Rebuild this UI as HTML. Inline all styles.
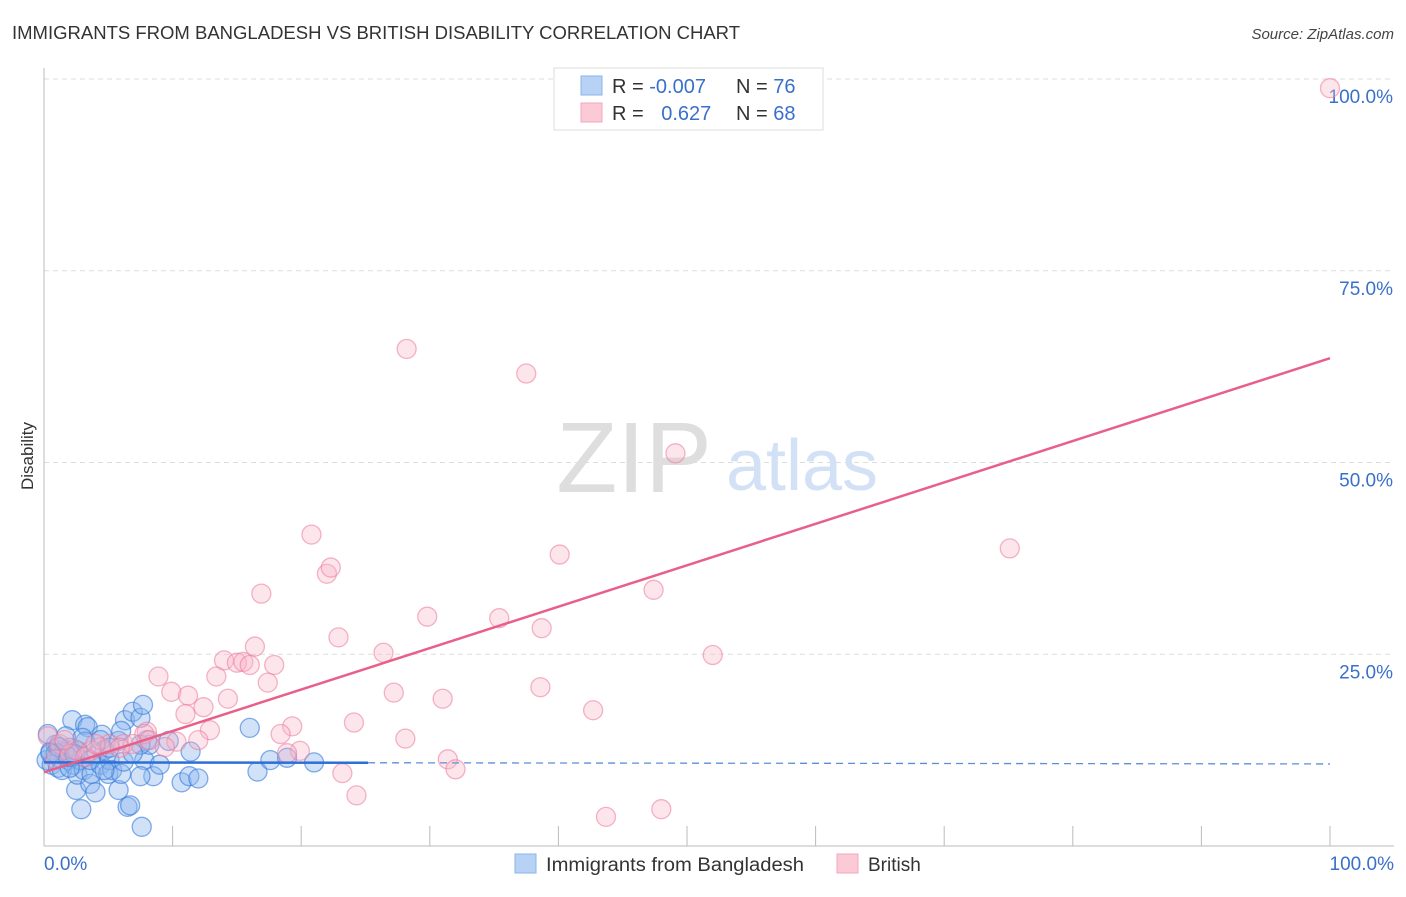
<!DOCTYPE html>
<html><head><meta charset="utf-8"><style>
body{margin:0;background:#fff;font-family:"Liberation Sans",sans-serif;}
svg text{font-family:"Liberation Sans",sans-serif;}
</style></head><body>
<svg id="chart" width="1406" height="892" xmlns="http://www.w3.org/2000/svg">
<text x="12" y="39" font-size="18" fill="#333" textLength="728" lengthAdjust="spacingAndGlyphs">IMMIGRANTS FROM BANGLADESH VS BRITISH DISABILITY CORRELATION CHART</text>
<text x="1394" y="39" font-size="15" fill="#444" text-anchor="end" font-style="italic">Source: ZipAtlas.com</text>
<text transform="translate(33,456) rotate(-90)" font-size="17" fill="#333" text-anchor="middle">Disability</text>
<g id="grid"></g>
<g><text x="634" y="492" font-size="100" fill="#dedede" font-family="Liberation Serif" text-anchor="middle">ZIP</text><text x="802" y="490" font-size="72" fill="#d2e1f5" text-anchor="middle">atlas</text></g>
<g id="blue"></g><g id="pink"></g><g id="lines"></g>
<g>
<rect x="554" y="68" width="269" height="62" fill="#fff" stroke="#ddd"/>
<rect x="581" y="76" width="21" height="19" fill="#b7d2f5" stroke="#8ab4ea"/>
<rect x="581" y="103" width="21" height="19" fill="#fcc9d7" stroke="#f1a7bd"/>
<text x="612" y="93" font-size="20" fill="#333">R = <tspan fill="#3a70c9">-0.007</tspan></text>
<text x="736" y="93" font-size="20" fill="#333">N = <tspan fill="#3a70c9">76</tspan></text>
<text x="612" y="120" font-size="20" fill="#333">R = <tspan fill="#3a70c9" dx="12">0.627</tspan></text>
<text x="736" y="120" font-size="20" fill="#333">N = <tspan fill="#3a70c9">68</tspan></text>
</g>
<g>
<rect x="515" y="854" width="21" height="19" fill="#b7d2f5" stroke="#8ab4ea"/>
<text x="546" y="871" font-size="19" fill="#333" textLength="258" lengthAdjust="spacingAndGlyphs">Immigrants from Bangladesh</text>
<rect x="837" y="854" width="21" height="19" fill="#fcc9d7" stroke="#f1a7bd"/>
<text x="868" y="871" font-size="19" fill="#333">British</text>
</g>
</svg>
<script>
const yTicks=[25,50,75,100];
const yTickLabels=["25.0%","50.0%","75.0%","100.0%"];
const xTickLabels=["0.0%","100.0%"];
const blueX=[0.2,0.5,0.6,0.9,1.1,1.2,1.4,1.6,1.9,2,2.2,2.3,2.5,2.6,2.8,2.9,3.1,3.2,3.4,3.6,3.7,4,4.1,4.4,4.5,4.7,5,5.1,5.3,5.8,6,6.2,6.3,6.5,6.7,6.9,7.5,7.6,7.7,7.8,8,8.2,8.5,9,9.7,10.7,11.3,12,16,16.6,17.6,18.9,21,11.4,7.5,1.2,1.6,2,3.2,2.4,0.9,0.3,5.8,4.4,5.1,1.7,2.6,3.6,4.7,7.5,1.1,0.5,1.9,3,6,6.9];
const blueY=[11.2,12.3,10.6,13.2,10.2,11.5,9.9,12.5,11.2,12.8,16.4,10.6,7.3,9.3,11.2,4.8,9.9,15.8,15.5,8.1,9.4,7,12,10.6,14.5,12.5,9.4,11.2,9.9,7.3,9.4,11,16.4,5.1,5.3,17.5,16.7,2.5,18.4,11.2,13.8,13.2,9.1,10.6,13.7,8.3,9.1,8.8,15.4,9.7,11.2,11.5,10.9,12.3,9.1,12.9,12.2,10.2,13.6,12,12.1,14.6,13.7,13.8,12.8,14.3,12.4,11.2,9.9,13.2,12.9,12.1,11.6,14.1,15,12.1];
const pinkX=[28.2,37.5,49.1,100,75.1,40.1,20.8,22,22.3,16.9,29.8,35.4,38.7,47.4,22.9,16.4,26.4,52,14,15,15.5,16,17.9,8.9,13.4,17.4,9.9,11.2,14.3,27.2,38.6,31,12.4,11,42.7,24.1,19.3,12.9,8,7.8,18.4,6.2,6.9,8.2,10.3,12,28.1,9.4,19.9,18.9,31.4,32,23.2,24.3,48,43.7,0.3,1.2,2.4,3.6,4.4,5.1,0.9,2,3.2,5.9,1.6,4];
const pinkY=[64.8,61.6,51.2,98.8,38.8,38,40.6,35.5,36.3,32.9,29.9,29.7,28.4,33.4,27.2,26,25.2,24.9,24.2,23.9,24,23.6,23.6,22.1,22.1,21.3,20.1,19.6,19.2,20,20.7,19.2,18.1,17.2,17.7,16.1,15.6,15.1,14.9,14.6,14.6,13.3,13.3,13.8,13.6,13.8,14,12.9,12.4,12.1,11.3,10,9.5,6.6,4.8,3.8,14.3,13.3,12.6,12.4,12.9,13.3,11.3,12,11.6,12.8,13.8,13.3];
const blueTrend=[10.9,10.7];
const pinkTrend=[9.6,63.6];
const X0=44,X1=1330,Y0=846,Y1=79;
const sx=v=>X0+(X1-X0)*v/100, sy=v=>Y0-(Y0-Y1)*v/100;
const NS="http://www.w3.org/2000/svg";
function mk(t,a,p){const e=document.createElementNS(NS,t);for(const k in a)e.setAttribute(k,a[k]);p.appendChild(e);return e;}
const grid=document.getElementById('grid');
yTicks.forEach((v,i)=>{
 const l=mk('line',{x1:44,x2:1394,y1:sy(v),y2:sy(v),stroke:'#ddd','stroke-dasharray':'5,4'},grid);
 
 
 const t=mk('text',{x:1393,y:sy(v)+24,'font-size':19,fill:'#3a70c9','text-anchor':'end'},grid);
 t.textContent=yTickLabels[i];
 
 
});
const ax=mk('line',{x1:44,x2:44,y1:68,y2:846,stroke:'#bbb'},grid);


const bx=mk('line',{x1:44,x2:1394,y1:846,y2:846,stroke:'#bbb'},grid);


for(let i=1;i<=10;i++){const t=mk('line',{x1:sx(i*10),x2:sx(i*10),y1:826,y2:846,stroke:'#bbb'},grid);
 
 }
[[0,'start',44],[100,'end',1394]].forEach((d,i)=>{const t=mk('text',{x:d[2],y:870,'font-size':19,fill:'#3a70c9','text-anchor':d[1]},grid);t.textContent=xTickLabels[i];
 
 });
const gb=document.getElementById('blue');
blueX.forEach((v,i)=>{const c=mk('circle',{cx:sx(v),cy:sy(blueY[i]),r:9.5,fill:'rgba(140,182,238,0.4)',stroke:'rgba(50,120,220,0.6)','stroke-width':1.3},gb);
 
 });
const gp=document.getElementById('pink');
pinkX.forEach((v,i)=>{const c=mk('circle',{cx:sx(v),cy:sy(pinkY[i]),r:9.5,fill:'rgba(248,180,200,0.35)',stroke:'rgba(235,120,155,0.55)','stroke-width':1.3},gp);
 
 });
const gl=document.getElementById('lines');
const yb=x=>blueTrend[0]+(blueTrend[1]-blueTrend[0])*x/100;
const l1=mk('line',{x1:sx(0),y1:sy(yb(0)),x2:sx(25.2),y2:sy(yb(25.2)),stroke:'#2c6fd6','stroke-width':2.5},gl);


const l2=mk('line',{x1:sx(25.2),y1:sy(yb(25.2)),x2:sx(100),y2:sy(yb(100)),stroke:'#5a8fd8','stroke-width':1.3,'stroke-dasharray':'7,5'},gl);


const l3=mk('line',{x1:sx(0),y1:sy(pinkTrend[0]),x2:sx(100),y2:sy(pinkTrend[1]),stroke:'#e8608a','stroke-width':2.5},gl);


</script>
</body></html>
